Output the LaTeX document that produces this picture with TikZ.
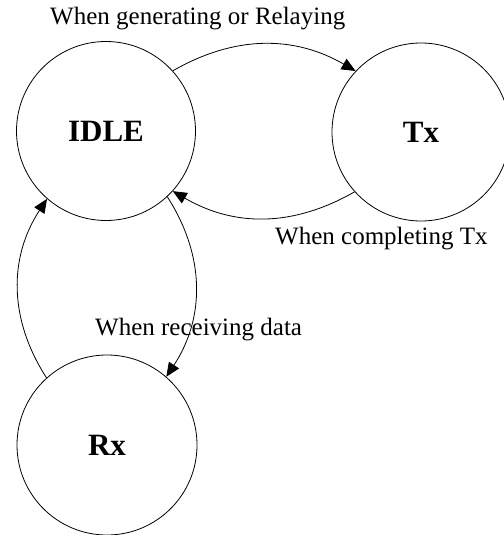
\documentclass[tikz,border=0pt]{standalone}
\usepackage{fontspec}
\setmainfont{Liberation Serif}
\usetikzlibrary{arrows.meta}
\begin{document}
\begin{tikzpicture}[x=1pt,y=1pt,
  state/.style={draw,circle,line width=0.8pt,inner sep=0pt,minimum size=#1,font=\fontsize{31}{36}\selectfont\bfseries},
  trans/.style={line width=0.8pt,-{Triangle[length=14pt,width=12pt]}},
  lbl/.style={anchor=base west,inner sep=0pt,font=\fontsize{25}{30}\selectfont}]
\useasboundingbox (0,0) rectangle (503,-535);
\node[state=179pt] (idle) at (106,-131) {IDLE};
\node[state=178pt] (tx) at (421,-132) {Tx};
\node[state=180pt] (rx) at (107,-445) {Rx};
\draw[trans] (idle.42) to[bend left=30] (tx.137);
\draw[trans] (tx.222) to[bend left=30] (idle.-42);
\draw[trans] (idle.-47) to[bend left=33] (rx.49);
\draw[trans] (rx.132) to[bend left=33] (idle.229);
\node[lbl] (l1) at (50,-25) {When generating or Relaying};
\node[lbl] (l2) at (275,-244) {When completing Tx};
\node[lbl] (l3) at (95,-335) {When receiving data};
\end{tikzpicture}
\end{document}
